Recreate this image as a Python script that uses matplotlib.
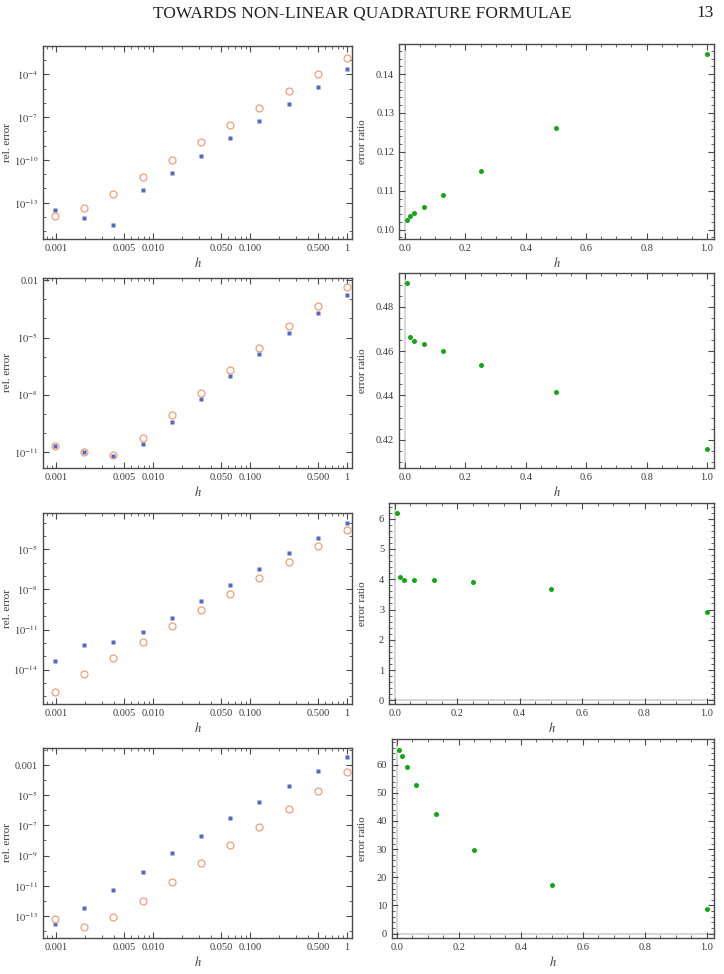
import matplotlib
matplotlib.use("Agg")
import matplotlib.pyplot as plt
import matplotlib.ticker as mticker
import numpy as np

plt.rcParams["font.family"] = ["Liberation Serif", "DejaVu Serif"]
plt.rcParams["mathtext.fontset"] = "stix"

BLUE = "#5468c4"
ORANGE = "#f0a07a"
GREEN = "#13a813"
FRAME = "#4a4a4a"
TXT = "#3a3a3a"

# step sizes h = 1, 1/2, ..., 1/1024
h = [1/1024, 1/512, 1/256, 1/128, 1/64, 1/32, 1/16, 1/8, 1/4, 1/2, 1]
# ratio plot uses h = 1/128 ... 1
h_ratio = [1/128, 1/64, 1/32, 1/16, 1/8, 1/4, 1/2, 1]

# relative errors (blue squares / orange circles), one row per example
err_sq_1 = [3.1e-14, 8.5e-15, 2.75e-15, 7.8e-13, 1.2e-11, 1.86e-10, 3.3e-9, 5.5e-8, 7.9e-7, 1.38e-5, 2.2e-4]
err_ci_1 = [1.2e-14, 4.5e-14, 4.3e-13, 6.6e-12, 1.0e-10, 1.8e-9, 2.9e-8, 4.5e-7, 6.8e-6, 1.05e-4, 1.4e-3]
err_sq_2 = [2.0e-11, 1.0e-11, 6.3e-12, 2.7e-11, 3.9e-10, 6.2e-9, 1.0e-7, 1.4e-6, 1.8e-5, 2.0e-4, 1.8e-3]
err_ci_2 = [2.1e-11, 9.5e-12, 7.2e-12, 5.1e-11, 8.3e-10, 1.17e-8, 1.9e-7, 2.7e-6, 3.9e-5, 4.4e-4, 4.3e-3]
err_sq_3 = [4.7e-14, 7.5e-13, 1.26e-12, 7.1e-12, 7.9e-11, 1.33e-9, 2.0e-8, 3.35e-7, 5.3e-6, 6.7e-5, 9.4e-4]
err_ci_3 = [2.0e-16, 4.5e-15, 7.1e-14, 1.12e-12, 1.78e-11, 2.8e-10, 4.5e-9, 7.1e-8, 1.12e-6, 1.9e-5, 2.8e-4]
err_sq_4 = [2.95e-14, 3.4e-13, 5.4e-12, 8.5e-11, 1.4e-9, 1.9e-8, 3.0e-7, 3.3e-6, 3.8e-5, 3.8e-4, 3.2e-3]
err_ci_4 = [6.0e-14, 1.95e-14, 9.1e-14, 1.05e-12, 1.9e-11, 3.2e-10, 4.8e-9, 7.6e-8, 1.17e-6, 1.95e-5, 3.4e-4]

# error ratios
ratio_1 = [0.1025, 0.1036, 0.1044, 0.1059, 0.1090, 0.1150, 0.1262, 0.1452]
ratio_2 = [0.4907, 0.4662, 0.4647, 0.4632, 0.4600, 0.4538, 0.4414, 0.4159]
ratio_3 = [6.19, 4.06, 3.99, 3.99, 3.97, 3.90, 3.67, 2.92]
ratio_4 = [65.3, 62.9, 59.2, 52.7, 42.6, 29.6, 17.2, 8.7]

x_major = [0.001, 0.005, 0.01, 0.05, 0.1, 0.5, 1]
x_labels = ["0.001", "0.005", "0.010", "0.050", "0.100", "0.500", "1"]

W, H = 724, 974
fig = plt.figure(figsize=(W / 100, H / 100), dpi=100)


def px_axes(l, t, r, b):
    ax = fig.add_axes([l / W, 1 - b / H, (r - l) / W, (b - t) / H])
    ax._px = (l, t, r, b)
    return ax


def style(ax):
    for s in ax.spines.values():
        s.set_color(FRAME)
        s.set_linewidth(1.0)
    ax.tick_params(which="both", direction="in", top=True, right=True,
                   colors=FRAME, labelcolor=TXT, labelsize=7.5)
    ax.tick_params(which="major", length=4, width=0.8)
    ax.tick_params(which="minor", length=2, width=0.6)


def labels(ax, ylab, ylab_x=366):
    l, t, r, b = ax._px
    ax.set_xlabel("$h$", fontsize=9, color=TXT)
    ax.xaxis.set_label_coords(0.5, -17 / (b - t))
    ax.set_ylabel(ylab, fontsize=8, color=TXT)
    ax.yaxis.set_label_coords((ylab_x - l) / (r - l), 0.5)


def log_panel(ax, sq, ci, ylim, ymajor, ylabels):
    ax.set_xscale("log")
    ax.set_yscale("log")
    ax.plot(h, sq, "s", color=BLUE, ms=3.4, mec="none", zorder=3)
    ax.plot(h, ci, "o", mfc="none", mec=ORANGE, mew=0.9, ms=5, zorder=3)
    ax.set_xlim(7.35e-4, 1.127)
    ax.set_ylim(ylim)
    ax.xaxis.set_major_locator(mticker.FixedLocator(x_major))
    ax.xaxis.set_major_formatter(mticker.FixedFormatter(x_labels))
    ax.xaxis.set_minor_locator(mticker.LogLocator(base=10, subs=np.arange(1, 10)))
    ax.xaxis.set_minor_formatter(mticker.NullFormatter())
    ax.yaxis.set_major_locator(mticker.FixedLocator(ymajor))
    ax.yaxis.set_major_formatter(mticker.FixedFormatter(ylabels))
    lo, hi = int(np.floor(np.log10(ylim[0]))), int(np.ceil(np.log10(ylim[1])))
    ax.yaxis.set_minor_locator(mticker.FixedLocator([10.0 ** k for k in range(lo, hi + 1)]))
    ax.yaxis.set_minor_formatter(mticker.NullFormatter())
    style(ax)
    labels(ax, "rel. error", ylab_x=12)


def ratio_panel(ax, r, xlim, ylim, ymaj, ymin, fmt, zero_line=False):
    ax.axvline(0, color="#cfcfcf", lw=1.2, zorder=1)
    if zero_line:
        ax.axhline(0, color="#cfcfcf", lw=1.2, zorder=1)
    ax.plot(h_ratio, r, "o", color=GREEN, ms=3.6, mec="none", zorder=3)
    ax.set_xlim(xlim)
    ax.set_ylim(ylim)
    ax.xaxis.set_major_locator(mticker.MultipleLocator(0.2))
    ax.xaxis.set_minor_locator(mticker.MultipleLocator(0.05))
    ax.xaxis.set_major_formatter(mticker.FormatStrFormatter("%.1f"))
    ax.yaxis.set_major_locator(mticker.MultipleLocator(ymaj))
    ax.yaxis.set_minor_locator(mticker.MultipleLocator(ymin))
    ax.yaxis.set_major_formatter(mticker.FormatStrFormatter(fmt))
    style(ax)
    labels(ax, "error ratio", ylab_x=367)


# row 1
ax = px_axes(43, 46, 352, 239)
log_panel(ax, err_sq_1, err_ci_1, (10 ** -15.54, 10 ** -2.02),
          [1e-13, 1e-10, 1e-7, 1e-4],
          ["$10^{-13}$", "$10^{-10}$", "$10^{-7}$", "$10^{-4}$"])
ax = px_axes(399, 44, 714, 239)
ratio_panel(ax, ratio_1, (-0.0199, 1.0232), (0.09759, 0.14774), 0.01, 0.002, "%.2f")

# row 2
ax = px_axes(43, 278, 352, 468)
log_panel(ax, err_sq_2, err_ci_2, (10 ** -11.84, 10 ** -1.878),
          [1e-11, 1e-8, 1e-5, 1e-2],
          ["$10^{-11}$", "$10^{-8}$", "$10^{-5}$", "0.01"])
ax = px_axes(399, 273, 714, 468)
ratio_panel(ax, ratio_2, (-0.0199, 1.0232), (0.40722, 0.4952), 0.02, 0.005, "%.2f")

# row 3
ax = px_axes(43, 513, 352, 704)
log_panel(ax, err_sq_3, err_ci_3, (10 ** -16.575, 10 ** -2.275),
          [1e-14, 1e-11, 1e-8, 1e-5],
          ["$10^{-14}$", "$10^{-11}$", "$10^{-8}$", "$10^{-5}$"])
ax = px_axes(389, 503, 714, 704)
ratio_panel(ax, ratio_3, (-0.0181, 1.0224), (-0.121, 6.518), 1, 0.2, "%d", zero_line=True)

# row 4
ax = px_axes(43, 748, 352, 938)
log_panel(ax, err_sq_4, err_ci_4, (10 ** -14.463, 10 ** -1.869),
          [1e-13, 1e-11, 1e-9, 1e-7, 1e-5, 1e-3],
          ["$10^{-13}$", "$10^{-11}$", "$10^{-9}$", "$10^{-7}$", "$10^{-5}$", "0.001"])
ax = px_axes(392, 739, 714, 938)
ratio_panel(ax, ratio_4, (-0.016, 1.0226), (-1.535, 69.09), 10, 2, "%d", zero_line=True)

# page header
fig.text(0.5, 1 - 13 / H, "TOWARDS NON-LINEAR QUADRATURE FORMULAE",
         ha="center", va="center", fontsize=12.5, color="#222222")
fig.text(714 / W, 1 - 13 / H, "13", ha="right", va="center", fontsize=12.5, color="#222222")

fig.savefig("out.png", dpi=100)
